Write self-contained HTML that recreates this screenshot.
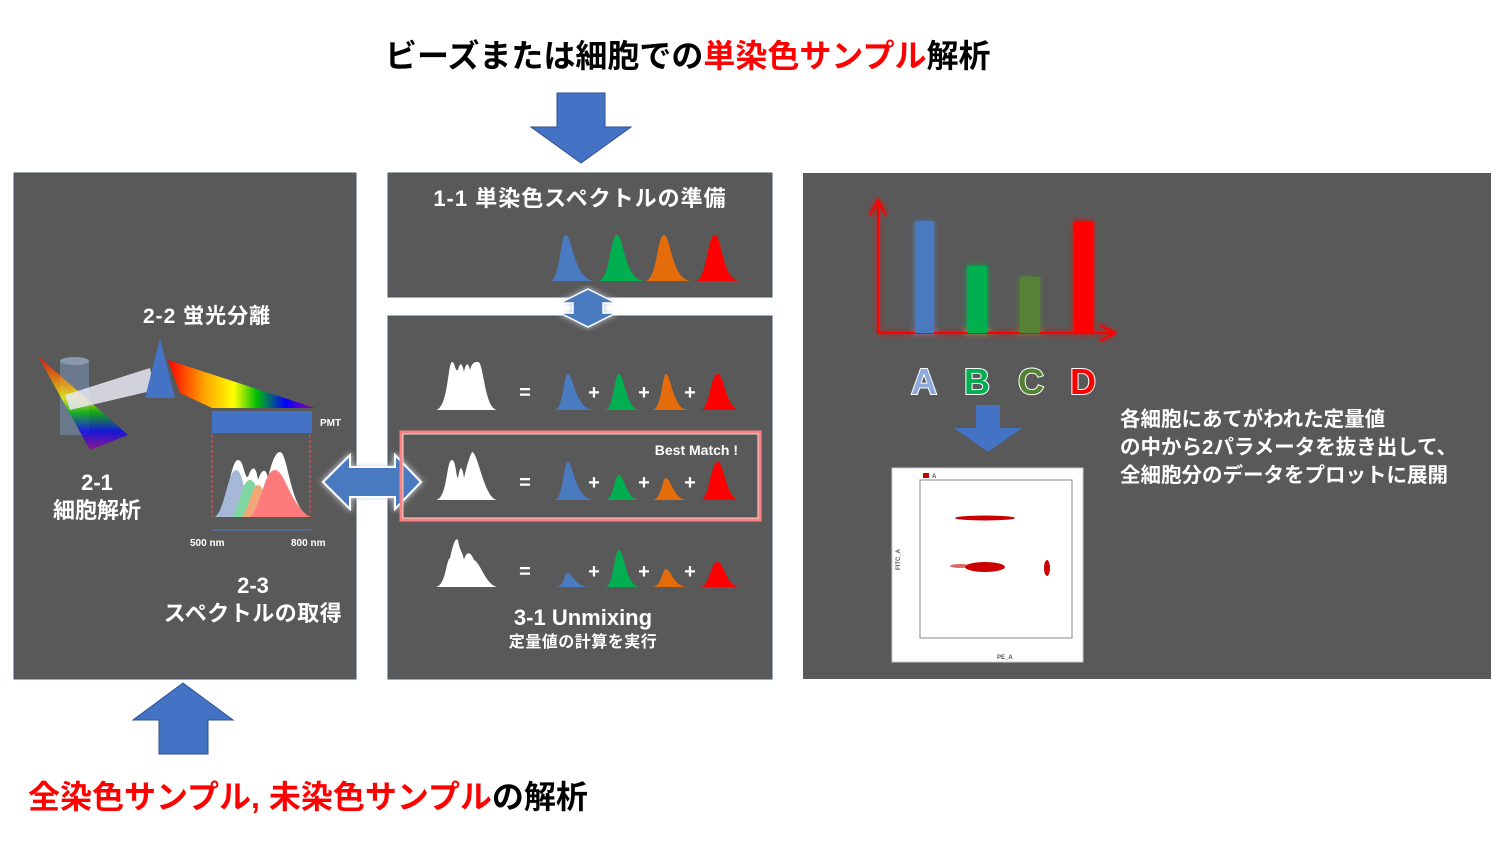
<!DOCTYPE html>
<html><head><meta charset="utf-8"><style>
body{margin:0;background:#fff;width:1500px;height:838px;overflow:hidden;font-family:"Liberation Sans","Noto Sans CJK JP",sans-serif;}
svg text{font-family:"Liberation Sans","Noto Sans CJK JP",sans-serif;font-weight:bold;}
</style></head><body>
<svg width="1500" height="838" viewBox="0 0 1500 838" xmlns="http://www.w3.org/2000/svg">
<defs>
<linearGradient id="rb" x1="0" y1="0" x2="1" y2="0">
<stop offset="0" stop-color="#ff0000"/><stop offset=".25" stop-color="#ffa500"/><stop offset=".45" stop-color="#ffff00"/><stop offset=".6" stop-color="#00c000"/><stop offset=".8" stop-color="#0000ff"/><stop offset="1" stop-color="#a000a0"/></linearGradient>
<linearGradient id="rb2" x1="0" y1="0" x2="0" y2="1">
<stop offset="0" stop-color="#ff0000"/><stop offset=".3" stop-color="#ffa500"/><stop offset=".45" stop-color="#ffff00"/><stop offset=".6" stop-color="#00c000"/><stop offset=".8" stop-color="#0000ff"/><stop offset="1" stop-color="#a000a0"/></linearGradient>
<filter id="gl"><feGaussianBlur stdDeviation="3" result="b"/><feMerge><feMergeNode in="b"/><feMergeNode in="SourceGraphic"/></feMerge></filter>
</defs>
<text x="385" y="67" font-size="32" fill="#000">ビーズまたは細胞での<tspan fill="#ff0000">単染色サンプル</tspan>解析</text>
<text x="28" y="808" font-size="32" fill="#ff0000">全染色サンプル, 未染色サンプル<tspan fill="#000">の解析</tspan></text>
<polygon points="557,93 605,93 605,127 631,127 581,163 531,127 557,127" fill="#4472c4" stroke="#2f528f"/>
<polygon points="183,683 233,720 208,720 208,754 159,754 159,720 133,720" fill="#4472c4" stroke="#2f528f"/>
<rect x="14" y="173" width="342" height="506" fill="#595959" stroke="#44546a"/>
<rect x="388" y="173" width="384" height="124" fill="#595959" stroke="#44546a"/>
<rect x="388" y="316" width="384" height="363" fill="#595959" stroke="#44546a"/>
<rect x="803" y="173" width="688" height="506" fill="#595959"/>
<text x="143" y="323" font-size="21" fill="#fff" letter-spacing="1">2-2 蛍光分離</text>
<rect x="60" y="360" width="29" height="75" fill="#6f7f95" opacity=".85"/>
<ellipse cx="74.5" cy="361" rx="14.5" ry="4" fill="#8a98ac"/>
<polygon points="38,356 128,435 90,450" fill="url(#rb2)" opacity=".75"/>
<polygon points="65,395 150,368 155,390 70,410" fill="#e8e8f4" opacity=".85"/>
<polygon points="168,360 315,408 212,408 180,393" fill="url(#rb)"/>
<polygon points="160,338 145,398 175,398" fill="#4472c4"/>
<rect x="212" y="411" width="100" height="22" fill="#4472c4"/>
<text x="320" y="426" font-size="10" fill="#fff">PMT</text>
<line x1="212" y1="435" x2="212" y2="517" stroke="#ff5050" stroke-dasharray="3,2"/>
<line x1="310" y1="435" x2="310" y2="517" stroke="#ff5050" stroke-dasharray="3,2"/>
<path d="M215,517 C228,510 230,460 238,460 C244,460 244,478 248,477 C252,465 256,465 258,480 C262,468 266,468 268,478 C272,460 276,452 280,452 C288,452 290,510 310,517 Z" fill="#fff"/>
<path d="M215,517 C225,510 228,470 236,470 C244,470 245,505 255,517 Z" fill="#a5b8d8"/>
<path d="M232,517 C240,505 242,480 250,480 C258,480 258,505 268,517 Z" fill="#7fd6a0"/>
<path d="M242,517 C250,505 252,485 258,485 C264,485 266,505 275,517 Z" fill="#f0a878"/>
<path d="M250,517 C262,505 264,470 275,470 C285,470 290,505 310,517 Z" fill="#ff7b7b"/>
<line x1="212" y1="530" x2="311" y2="530" stroke="#4a7ac0"/>
<text x="190" y="546" font-size="10" fill="#fff">500 nm</text>
<text x="291" y="546" font-size="10" fill="#fff">800 nm</text>
<text x="97" y="490" font-size="22" fill="#fff" text-anchor="middle">2-1</text>
<text x="97" y="518" font-size="22" fill="#fff" text-anchor="middle">細胞解析</text>
<text x="253" y="593" font-size="22" fill="#fff" text-anchor="middle">2-3</text>
<text x="253" y="621" font-size="22" fill="#fff" text-anchor="middle" letter-spacing="0.5">スペクトルの取得</text>
<polygon points="323,482 350,455 350,467 395,467 395,455 421,482 395,509 395,497 350,497 350,509" fill="#4a7ac0" stroke="#fff" stroke-width="2" filter="url(#gl)"/>
<polygon points="588,289 616,303 603,303 603,313 616,313 588,327 560,313 573,313 573,303 560,303" fill="#4a7ac0" stroke="#fff" stroke-width="1.5" filter="url(#gl)"/>
<text x="580" y="206" font-size="22" fill="#fff" text-anchor="middle" letter-spacing="1">1-1 単染色スペクトルの準備</text>
<path d="M550,281 C560,281 560,235 566,235 C572,235 574,281 595,281 Z" fill="#4a7ac0"/>
<path d="M598,281 C610,281 610,235 617,235 C624,235 624,281 645,281 Z" fill="#00b050"/>
<path d="M645,281 C657,281 657,235 664,235 C671,235 671,281 692,281 Z" fill="#e46c0a"/>
<path d="M695,281 C707,281 707,235 715,235 C722,235 722,281 740,281 Z" fill="#ff0000"/>
<g fill="#fff">
<path d="M436,410 C448,408 448,362 452,362 C455,362 455,372 458,370 C460,362 462,362 464,372 C466,362 468,362 470,370 C472,362 475,362 478,362 C484,362 484,408 497,410 Z"/>
<path d="M436,500 C448,498 446,460 452,460 C456,460 456,478 458,478 C460,465 462,465 464,478 C466,470 468,460 472,452 C478,452 484,498 497,500 Z"/>
<path d="M436,587 C446,585 446,560 450,558 C454,540 456,538 458,540 C460,552 462,550 464,560 C466,552 470,550 474,560 C480,562 486,585 497,587 Z"/>
</g>
<g font-size="20" fill="#fff" text-anchor="middle">
<text x="525" y="399">=</text><text x="525" y="489">=</text><text x="525" y="578">=</text>
<text x="594" y="399">+</text><text x="644" y="399">+</text><text x="690" y="399">+</text>
<text x="594" y="489">+</text><text x="644" y="489">+</text><text x="690" y="489">+</text>
<text x="594" y="578">+</text><text x="644" y="578">+</text><text x="690" y="578">+</text>
</g>
<path d="M554,410 C564,410 563,374 568,374 C573,374 575,410 595,410 Z" fill="#4a7ac0"/>
<path d="M605,410 C614,410 614,374 619,374 C624,374 626,410 640,410 Z" fill="#00b050"/>
<path d="M652,410 C662,410 662,374 666,374 C671,374 673,410 688,410 Z" fill="#e46c0a"/>
<path d="M700,410 C710,410 710,374 718,374 C724,374 726,410 740,410 Z" fill="#ff0000"/>
<path d="M554,500 C564,500 563,462 568,462 C573,462 575,500 595,500 Z" fill="#4a7ac0"/>
<path d="M605,500 C614,500 614,475 619,475 C624,475 626,500 640,500 Z" fill="#00b050"/>
<path d="M652,500 C662,500 662,478 666,478 C671,478 673,500 688,500 Z" fill="#e46c0a"/>
<path d="M700,500 C710,500 710,462 718,462 C724,462 726,500 740,500 Z" fill="#ff0000"/>
<path d="M556,587 C564,587 564,573 568,573 C572,573 575,587 590,587 Z" fill="#4a7ac0"/>
<path d="M605,587 C614,587 614,550 619,550 C624,550 626,587 640,587 Z" fill="#00b050"/>
<path d="M652,587 C662,587 662,569 666,569 C671,569 673,587 688,587 Z" fill="#e46c0a"/>
<path d="M700,587 C710,587 710,562 718,562 C724,562 726,587 740,587 Z" fill="#ff0000"/>
<rect x="401" y="432" width="359" height="88" fill="none" stroke="#ff8080" stroke-width="3"/>
<rect x="403" y="434" width="355" height="84" fill="none" stroke="#ddd" stroke-width="1"/>
<text x="738" y="455" font-size="14" fill="#fff" text-anchor="end">Best Match !</text>
<text x="583" y="625" font-size="22" fill="#fff" text-anchor="middle">3-1 Unmixing</text>
<text x="583" y="647" font-size="16" fill="#fff" text-anchor="middle" letter-spacing="0.5">定量値の計算を実行</text>
<g filter="url(#gl)">
<polyline points="870,215 878,200 886,215" fill="none" stroke="#ff0000" stroke-width="2"/>
<polyline points="878,200 878,333 1115,333" fill="none" stroke="#ff0000" stroke-width="2"/>
<polyline points="1100,325 1115,333 1100,341" fill="none" stroke="#ff0000" stroke-width="2"/>
<rect x="915" y="221" width="19" height="112" fill="#4a7ac0"/>
<rect x="967" y="266" width="20" height="67" fill="#00b050"/>
<rect x="1020" y="277" width="20" height="56" fill="#548235"/>
<rect x="1074" y="221" width="19" height="112" fill="#ff0000"/>
</g>
<g font-size="36" text-anchor="middle" stroke="#fff" stroke-width="2" paint-order="stroke">
<text x="924" y="394" fill="#8ea9db">A</text>
<text x="977" y="394" fill="#00b050">B</text>
<text x="1031" y="394" fill="#548235">C</text>
<text x="1083" y="394" fill="#ff0000">D</text>
</g>
<polygon points="976,405 1000,405 1000,428 1022,428 988,452 954,428 976,428" fill="#4472c4"/>
<rect x="892" y="468" width="191" height="194" fill="#fff" stroke="#ccc"/>
<rect x="920" y="480" width="152" height="158" fill="none" stroke="#888" stroke-width="1"/>
<rect x="923" y="473" width="6" height="5" fill="#c00000"/>
<text x="932" y="478" font-size="6" fill="#555" font-weight="normal">A</text>
<ellipse cx="985" cy="518" rx="30" ry="2.5" fill="#cc0000"/>
<ellipse cx="985" cy="567" rx="20" ry="5" fill="#cc0000"/>
<ellipse cx="960" cy="566" rx="10" ry="2" fill="#cc0000" opacity=".6"/>
<ellipse cx="1047" cy="568" rx="3" ry="8" fill="#cc0000"/>
<text x="997" y="659" font-size="6" fill="#555" font-weight="normal">PE_A</text>
<text x="900" y="570" font-size="6" fill="#555" font-weight="normal" transform="rotate(-90 900 570)">FITC_A</text>
<text x="1120" y="426" font-size="20.5" fill="#fff">各細胞にあてがわれた定量値</text>
<text x="1120" y="454" font-size="20.5" fill="#fff">の中から2パラメータを抜き出して、</text>
<text x="1120" y="482" font-size="20.5" fill="#fff">全細胞分のデータをプロットに展開</text>
</svg>
</body></html>
